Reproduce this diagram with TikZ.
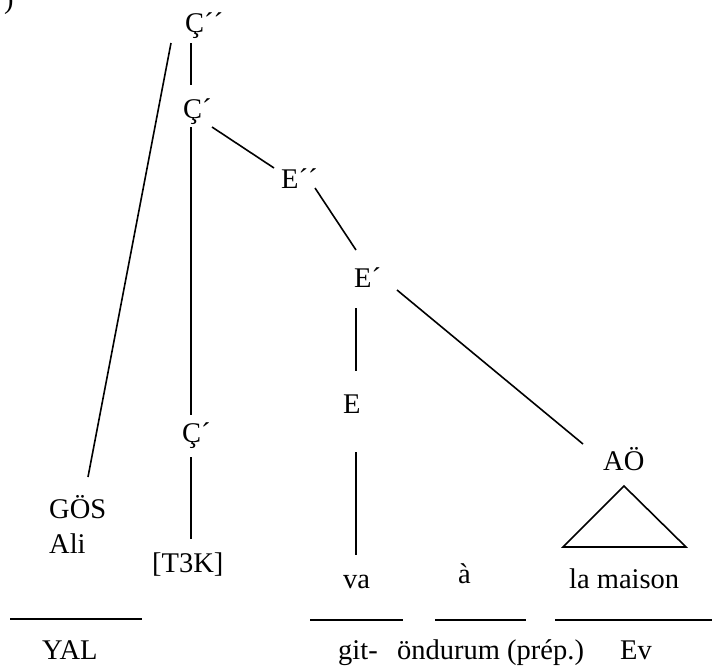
\documentclass[tikz,border=0pt]{standalone}
\usepackage{fontspec}
\setmainfont{Liberation Serif}
\begin{document}
\begin{tikzpicture}[x=1pt,y=-1pt,
  lbl/.style={anchor=base west,inner sep=0pt,font=\fontsize{28.5}{34}\selectfont},
  edge/.style={line width=1.6pt},
  rule/.style={line width=1.8pt}]
\useasboundingbox (0,0) rectangle (712,665);
% labels
\node[lbl] (paren) at (4,8) {)};
\node[lbl] (C2) at (185,32) {Ç´´};
\node[lbl] (C1) at (183,118) {Ç´};
\node[lbl] (E2) at (281,188) {E´´};
\node[lbl] (E1) at (354,287) {E´};
\node[lbl] (E0) at (343,413) {E};
\node[lbl] (AO) at (603,470) {AÖ};
\node[lbl] (GOS) at (49,518) {GÖS};
\node[lbl] (Ali) at (49,553) {Ali};
\node[lbl] (C1b) at (182,442) {Ç´};
\node[lbl] (T3K) at (152,572) {[T3K]};
\node[lbl] (va) at (343,588) {va};
\node[lbl] (aa) at (458,583) {à};
\node[lbl] (lm) at (569,588) {la maison};
\node[lbl] (YAL) at (42,659) {YAL};
\node[lbl] (git) at (338,659) {git-};
\node[lbl] (ond) at (397,659) {öndurum (prép.)};
\node[lbl] (Ev) at (620,659) {Ev};
% connector end points
\coordinate (C2b) at (191,43);
\coordinate (C1t) at (191,85);
\coordinate (C2l) at (171,43);
\coordinate (GOSt) at (88,477);
\coordinate (C1d) at (191,127);
\coordinate (C1bt) at (191,415);
\coordinate (C1r) at (212,127);
\coordinate (E2l) at (274,168);
\coordinate (E2r) at (315,188);
\coordinate (E1t) at (356,250);
\coordinate (E1d) at (356,308);
\coordinate (E0t) at (356,371);
\coordinate (E0d) at (356,452);
\coordinate (vat) at (356,555);
\coordinate (E1r) at (397,290);
\coordinate (AOt) at (583,444);
\coordinate (C1bd) at (191,457);
\coordinate (T3Kt) at (191,539);
\coordinate (triA) at (624,486);
\coordinate (triL) at (563,547);
\coordinate (triR) at (686,547);
% tree edges
\draw[edge] (C2b) -- (C1t);
\draw[edge] (C2l) -- (GOSt);
\draw[edge] (C1d) -- (C1bt);
\draw[edge] (C1r) -- (E2l);
\draw[edge] (E2r) -- (E1t);
\draw[edge] (E1d) -- (E0t);
\draw[edge] (E0d) -- (vat);
\draw[edge] (E1r) -- (AOt);
\draw[edge] (C1bd) -- (T3Kt);
\draw[edge,line join=miter] (triA) -- (triR) -- (triL) -- cycle;
% gloss rules
\coordinate (r1a) at (10,619); \coordinate (r1b) at (142,619);
\coordinate (r2a) at (310,620); \coordinate (r2b) at (403,620);
\coordinate (r3a) at (435,620); \coordinate (r3b) at (526,620);
\coordinate (r4a) at (555,620); \coordinate (r4b) at (712,620);
\draw[rule] (r1a) -- (r1b);
\draw[rule] (r2a) -- (r2b);
\draw[rule] (r3a) -- (r3b);
\draw[rule] (r4a) -- (r4b);
\end{tikzpicture}
\end{document}
